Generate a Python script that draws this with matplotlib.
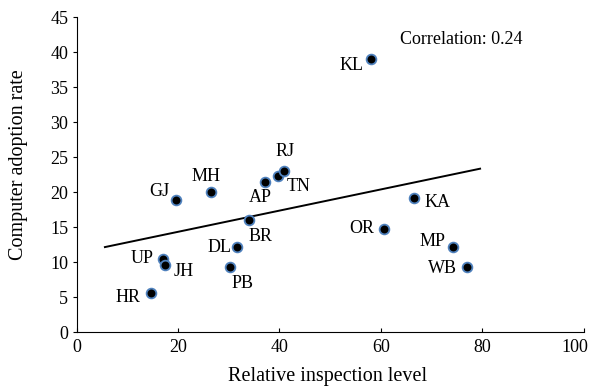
import matplotlib.pyplot as plt
from matplotlib.transforms import ScaledTranslation

plt.rcParams['font.family'] = ['Liberation Serif', 'DejaVu Serif']

states = ['KL', 'GJ', 'MH', 'AP', 'TN', 'RJ', 'BR', 'DL', 'PB', 'UP', 'JH', 'HR',
          'KA', 'OR', 'MP', 'WB']
inspection = [58.1, 19.6, 26.5, 37.2, 39.7, 40.9, 34.0, 31.7, 30.2, 17.0, 17.5, 14.6,
              66.6, 60.7, 74.2, 77.0]
adoption = [39.1, 18.9, 20.0, 21.5, 22.4, 23.1, 16.1, 12.2, 9.4, 10.5, 9.6, 5.6,
            19.2, 14.8, 12.2, 9.3]

# trend line ends
trend_x = [5.6, 79.6]
trend_y = [12.2, 23.4]

# label offsets in pixels and alignment
offsets = {
    'KL': (-8, -7, 'right'), 'GJ': (-6, 9, 'right'), 'MH': (-5, 16, 'center'),
    'AP': (-5, -16, 'center'), 'TN': (9, -11, 'left'), 'RJ': (1, 19, 'center'),
    'BR': (0, -17, 'left'), 'DL': (-6, 0, 'right'), 'PB': (13, -17, 'center'),
    'UP': (-9, 0, 'right'), 'JH': (8, -6, 'left'), 'HR': (-10, -4, 'right'),
    'KA': (10, -4, 'left'), 'OR': (-10, 0, 'right'), 'MP': (-7, 6, 'right'),
    'WB': (-10, -1, 'right'),
}

fig = plt.figure(figsize=(5.89, 3.92), dpi=100)
ax = fig.add_axes([0.1299, 0.1518, 0.8608, 0.8036])

ax.plot(trend_x, trend_y, color='black', lw=1.4, zorder=2)
ax.plot(inspection, adoption, 'o', ms=7, mfc='black', mec='#4f81bd', mew=1.3,
        ls='none', zorder=3)

for s, x, y in zip(states, inspection, adoption):
    dx, dy, ha = offsets[s]
    ax.annotate(s, (x, y), xytext=(dx, dy), textcoords='offset pixels',
                ha=ha, va='center', fontsize=13)

ax.text(63.9, 41.9, 'Correlation: 0.24', fontsize=13, va='center', ha='left')

ax.set_xlim(0, 100)
ax.set_ylim(0, 45)
ax.set_xticks(range(0, 101, 20))
ax.set_yticks(range(0, 46, 5))
ax.spines['top'].set_visible(False)
ax.spines['right'].set_visible(False)
ax.tick_params(axis='x', direction='in', length=3, labelsize=13, pad=5)
ax.tick_params(axis='y', direction='out', length=3, labelsize=13, pad=3)

# last x label sits a little left of its tick
lab = ax.get_xticklabels()[-1]
lab.set_transform(lab.get_transform() + ScaledTranslation(-0.085, 0, fig.dpi_scale_trans))

ax.set_xlabel('Relative inspection level', fontsize=14.5, va='center')
ax.set_ylabel('Computer adoption rate', fontsize=14.5, va='center')
ax.xaxis.set_label_coords(0.495, -0.141)
ax.yaxis.set_label_coords(-0.115, 0.532)

fig.savefig('out.png', dpi=100)
